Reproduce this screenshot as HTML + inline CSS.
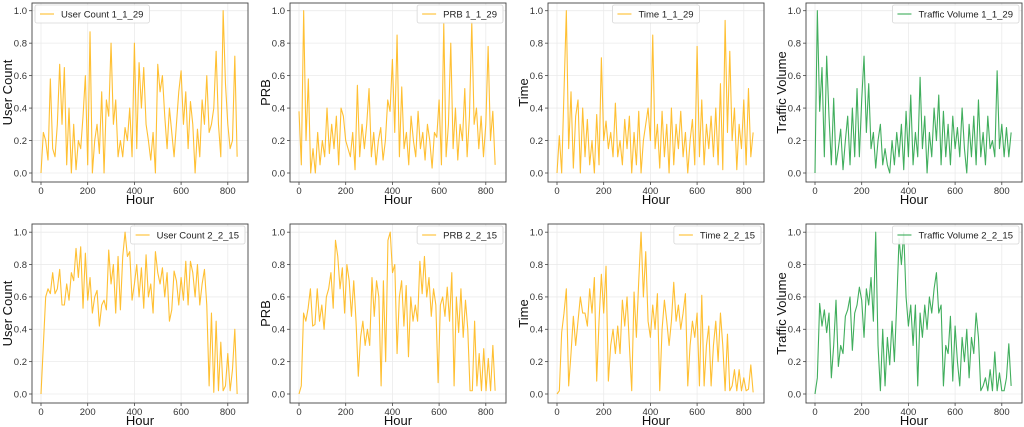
<!DOCTYPE html>
<html><head><meta charset="utf-8"><style>
html,body{margin:0;padding:0;background:#fff}
svg{display:block;font-family:"Liberation Sans",sans-serif}
</style></head><body>
<svg id="chart" width="1024" height="427" viewBox="0 0 1024 427" xmlns="http://www.w3.org/2000/svg"></svg>
<script>
const userCount1 = [0,.25,.2,.08,.58,.15,.1,.3,.67,.3,.65,.05,.4,0,.3,.02,.2,.15,.35,.6,.05,.87,0,.2,.3,.12,.5,0,.45,.35,.8,.3,.45,.1,.2,.1,.28,.2,.4,.1,.8,.15,.68,.4,.65,.3,.2,.08,.25,0,.67,.5,.6,.35,.15,.4,.25,.1,.3,.5,.63,.3,.5,.15,.44,.3,0,.27,.1,.45,.3,.6,.25,.3,.4,.75,.3,.1,1,.55,.3,.15,.2,.72,.1];
const prb1 = [.38,.05,1,.2,.58,0,.15,0,.25,.05,.2,.1,.4,.12,.3,.15,.35,.05,.4,.35,.2,.15,.1,.25,.02,.54,.1,.3,.15,.3,.52,.1,.25,.05,.2,.28,.08,.2,.45,.38,.7,.25,.85,.1,.53,.15,.25,.05,.35,.2,.1,.38,.15,.25,.08,.3,.2,.03,.25,.22,.45,.05,.92,.1,.3,.8,.15,.4,.08,.3,.2,.52,.1,.35,.93,.3,.4,.15,.35,.1,.3,.78,.2,.38,.05];
const time1 = [0,.23,0,.5,1,.15,.5,.03,.35,.45,0,.4,.1,.33,.05,.2,0,.36,.05,.71,.2,.32,.15,.25,.1,.43,.1,.2,.05,.33,.15,.35,0,.25,.05,.38,0,.2,.3,.4,.2,.85,.15,.3,.03,.38,.1,.3,0,.4,.05,.3,.15,.38,.1,.25,0,.2,.33,.05,.78,.1,.45,.05,.3,.15,.35,.1,.4,.05,.55,.02,.94,.25,.75,.2,.4,.02,.3,.15,.45,.05,.52,.1,.25];
const traffic1 = [0,1,.38,.65,.1,.72,.35,.05,.46,.05,.15,.27,.02,.2,.35,.05,.4,.1,.52,.1,.45,.72,.25,.55,.15,.25,.03,.2,.3,.05,.15,.05,0,.2,.05,.25,.1,.3,.02,.38,.1,.48,.05,.25,.1,.59,.15,.35,0,.25,.1,.4,.2,.48,.05,.38,.1,.3,.05,.35,.15,.28,.1,.4,.15,0,.3,.1,.35,.05,.45,.1,.25,.05,.35,.15,.2,.1,.63,.15,.3,.1,.28,.1,.25];
const userCount2 = [0,.3,.6,.65,.62,.75,.62,.65,.77,.55,.55,.68,.58,.75,.7,.9,.72,.91,.53,.87,.58,.72,.5,.6,.64,.42,.55,.58,.52,.89,.68,.8,.5,.85,.52,.85,1,.85,.88,.58,.68,.8,.6,.78,.53,.86,.6,.68,.5,.88,.75,.68,.78,.6,.75,.45,.52,.76,.7,.55,.72,.58,.82,.55,.82,.75,.6,.8,.55,.68,.77,.55,.05,.5,.01,.45,.02,.32,.02,.05,.25,.02,.15,.4,0];
const prb2 = [0,.05,.5,.45,.53,.65,.42,.43,.65,.45,.55,.4,.6,.65,.75,.53,.95,.85,.65,.78,.5,.8,.7,.48,.7,.45,.11,.35,.45,.3,.4,.3,.72,.48,.7,.6,.05,.7,.2,.95,1,.75,.8,.25,.6,.7,.42,.67,.23,.6,.45,.55,.45,.82,.62,.85,.6,.72,.48,.65,.55,.07,.55,.6,.48,.66,.45,.75,.05,.6,.38,.65,.35,.58,.4,.02,.02,.45,.05,.25,.02,.28,.02,.22,.02,.3,.02];
const time2 = [0,.02,.38,.5,.65,.05,.25,.48,.3,.45,.6,.5,.5,.42,.65,.5,.72,.08,.45,.74,.5,.79,.08,.3,.4,.25,.42,.25,.58,.42,.6,.3,.02,.63,.35,.7,1,.6,.88,.45,.35,.55,.4,.62,.02,.4,.58,.45,.3,.45,.69,.45,.55,.4,.5,.62,.05,.3,.45,.35,.5,.05,.61,.05,.3,.42,.05,.3,.45,.2,.5,.3,.02,.37,.02,.05,.15,.02,.15,.02,.1,.02,.03,.18,.01];
const traffic2 = [0,.1,.56,.42,.52,.38,.5,.1,.3,.58,.17,.3,.25,.48,.52,.6,.27,.5,.55,.66,.58,.35,.65,.55,.72,.45,1,.3,.02,.4,.05,.35,.18,.45,.2,.56,.96,.8,1,.6,.42,.55,.3,.55,.05,.5,.35,.55,.4,.6,.5,.65,.75,.5,.55,.05,.3,.25,.48,.08,.42,.2,.05,.35,.2,.4,.1,.35,.25,.5,.35,.02,.05,.1,.02,.15,.02,.26,.02,.13,.02,.02,.1,.31,.05];
const xTicks = [0,200,400,600,800];
const yTicks = [0,0.2,0.4,0.6,0.8,1.0];
const yTickLabels = ["0.0","0.2","0.4","0.6","0.8","1.0"];
const MAXH = 840;

const svg = document.getElementById('chart');
const NS = 'http://www.w3.org/2000/svg';
function mk(tag, attrs, parent){const e=document.createElementNS(NS,tag);for(const k in attrs)e.setAttribute(k,attrs[k]);(parent||svg).appendChild(e);return e;}

const ORANGE = '#ffb000', GREEN = '#119a35';
const panels = [
 {series:userCount1, label:'User Count', legend:'User Count 1_1_29', color:ORANGE, col:0,row:0, pos:'left', slug:'user-count-1-1-29'},
 {series:prb1, label:'PRB', legend:'PRB 1_1_29', color:ORANGE, col:1,row:0, pos:'right', slug:'prb-1-1-29'},
 {series:time1, label:'Time', legend:'Time 1_1_29', color:ORANGE, col:2,row:0, pos:'center', slug:'time-1-1-29'},
 {series:traffic1, label:'Traffic Volume', legend:'Traffic Volume 1_1_29', color:GREEN, col:3,row:0, pos:'right', slug:'traffic-volume-1-1-29'},
 {series:userCount2, label:'User Count', legend:'User Count 2_2_15', color:ORANGE, col:0,row:1, pos:'right', slug:'user-count-2-2-15'},
 {series:prb2, label:'PRB', legend:'PRB 2_2_15', color:ORANGE, col:1,row:1, pos:'right', slug:'prb-2-2-15'},
 {series:time2, label:'Time', legend:'Time 2_2_15', color:ORANGE, col:2,row:1, pos:'right', slug:'time-2-2-15'},
 {series:traffic2, label:'Traffic Volume', legend:'Traffic Volume 2_2_15', color:GREEN, col:3,row:1, pos:'right', slug:'traffic-volume-2-2-15'}
];

panels.forEach(p=>{
  const ox = p.col*258, oy = p.row===0 ? 0 : 221;
  const L=ox+32, R=ox+248, T=oy+3, B=oy+182;
  const y0 = oy+173, y1 = oy+10.7 + (p.row?0.5:0);
  const xs = h => ox+41 + h*0.2335;
  const ys = v => y0 - v*(y0-y1);
  const g = mk('g',{});
  
  
  xTicks.forEach(t=>{const l=mk('line',{x1:xs(t),x2:xs(t),y1:T,y2:B,stroke:'#ebebeb','stroke-width':0.8},g);
     });
  yTicks.forEach(t=>{const l=mk('line',{x1:L,x2:R,y1:ys(t),y2:ys(t),stroke:'#ebebeb','stroke-width':0.8},g);
     });
  const n = p.series.length;
  const pts = p.series.map((v,i)=>xs(i*MAXH/(n-1)).toFixed(2)+','+ys(v).toFixed(2)).join(' ');
  const line = mk('polyline',{points:pts,fill:'none',stroke:p.color,'stroke-width':1.1,'stroke-opacity':0.8,'stroke-linejoin':'round'},g);
  
  
  const box = mk('rect',{x:L,y:T,width:R-L,height:B-T,fill:'none',stroke:'#444','stroke-width':0.9},g);
  
  
  xTicks.forEach(t=>{
    mk('line',{x1:xs(t),x2:xs(t),y1:B,y2:B+3,stroke:'#444','stroke-width':0.8},g);
    const tx = mk('text',{x:xs(t),y:B+12,'font-size':9.5,'text-anchor':'middle',fill:'#333'},g);
    tx.textContent = t;
    
    
  });
  yTicks.forEach((t,i)=>{
    mk('line',{x1:L-3,x2:L,y1:ys(t),y2:ys(t),stroke:'#444','stroke-width':0.8},g);
    const tx = mk('text',{x:L-5,y:ys(t)+3.3,'font-size':9.5,'text-anchor':'end',fill:'#333'},g);
    tx.textContent = yTickLabels[i];
    
    
  });
  const xt = mk('text',{x:ox+140,y:oy+204,'font-size':13,'text-anchor':'middle',fill:'#111'},g);
  xt.textContent = 'Hour';
  
  
  const cy = (T+B)/2;
  const yt = mk('text',{x:ox+12,y:cy,'font-size':13,'text-anchor':'middle',fill:'#111',transform:`rotate(-90 ${ox+12} ${cy})`},g);
  yt.textContent = p.label;
  
  
  // legend
  const lg = mk('g',{},g);
  
  
  const ly = oy+5;
  const bg = mk('rect',{x:0,y:ly,width:10,height:18,rx:2,fill:'#fff','fill-opacity':0.85,stroke:'#d6d6d6','stroke-width':0.8},lg);
  const sw = mk('line',{x1:0,x2:0,y1:ly+9,y2:ly+9,stroke:p.color,'stroke-width':1.5,'stroke-opacity':0.6},lg);
  const lt = mk('text',{x:0,y:ly+12.5,'font-size':9.5,fill:'#222'},lg);
  lt.textContent = p.legend;
  
  
  let tw = 0; try{ tw = lt.getComputedTextLength(); }catch(e){ tw = p.legend.length*5.3; }
  if(!tw) tw = p.legend.length*5.3;
  const lw = tw + 32;
  let lx = p.pos==='left' ? L+3 : (p.pos==='right' ? R-3-lw : ox+140-lw/2);
  bg.setAttribute('x', lx); bg.setAttribute('width', lw);
  sw.setAttribute('x1', lx+5); sw.setAttribute('x2', lx+19);
  lt.setAttribute('x', lx+26);
});
</script>
</body></html>
